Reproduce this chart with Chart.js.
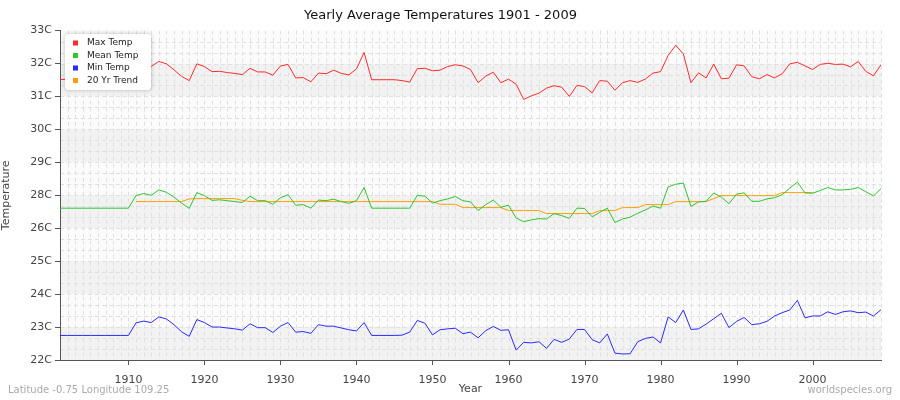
<!DOCTYPE html>
<html><head><meta charset="utf-8">
<script src="https://cdn.jsdelivr.net/npm/chart.js@4"></script>
<style>body{margin:0;background:#fff}#w{width:900px;height:400px;position:relative}</style>
</head><body><div id="w"><canvas id="c"></canvas></div>
<script>
const firstYear = 1901, lastYear = 2009;
const maxTemp = [31.37,31.37,31.37,31.37,31.37,31.37,31.37,31.37,31.37,31.37,
31.7,31.75,31.8,31.97,31.89,31.69,31.47,31.33,31.89,31.8,
31.63,31.64,31.6,31.57,31.53,31.74,31.62,31.62,31.51,31.82,
31.87,31.42,31.43,31.29,31.58,31.56,31.68,31.57,31.52,31.72,
32.27,31.36,31.36,31.36,31.36,31.33,31.28,31.73,31.74,31.66,
31.68,31.8,31.86,31.82,31.7,31.26,31.48,31.61,31.26,31.38,
31.21,30.7,30.82,30.91,31.08,31.16,31.11,30.8,31.17,31.13,
30.92,31.33,31.31,31.01,31.26,31.33,31.27,31.38,31.58,31.63,
32.17,32.51,32.22,31.26,31.59,31.42,31.88,31.39,31.41,31.86,
31.82,31.46,31.39,31.53,31.42,31.56,31.89,31.94,31.82,31.7,
31.87,31.91,31.87,31.88,31.79,31.97,31.64,31.49,31.86];
const meanTemp = [27.07,27.07,27.07,27.07,27.07,27.07,27.07,27.07,27.07,27.07,
27.49,27.56,27.5,27.68,27.6,27.44,27.24,27.06,27.59,27.49,
27.33,27.35,27.32,27.29,27.26,27.47,27.32,27.32,27.2,27.42,
27.52,27.17,27.19,27.07,27.34,27.32,27.37,27.29,27.23,27.32,
27.76,27.07,27.07,27.07,27.07,27.07,27.07,27.5,27.47,27.24,
27.32,27.38,27.46,27.32,27.28,26.99,27.19,27.34,27.1,27.17,
26.74,26.62,26.68,26.72,26.71,26.89,26.82,26.73,27.07,27.06,
26.78,26.93,27.07,26.59,26.71,26.77,26.9,27.01,27.14,27.07,
27.78,27.87,27.91,27.13,27.28,27.3,27.58,27.44,27.22,27.54,
27.58,27.3,27.3,27.38,27.42,27.52,27.74,27.94,27.58,27.57,
27.66,27.76,27.68,27.68,27.7,27.76,27.62,27.48,27.72];
const minTemp = [22.82,22.82,22.82,22.82,22.82,22.82,22.82,22.82,22.82,22.82,
23.24,23.3,23.25,23.44,23.37,23.18,22.94,22.79,23.35,23.25,
23.1,23.1,23.07,23.04,23.0,23.21,23.08,23.08,22.92,23.13,
23.25,22.93,22.95,22.89,23.18,23.13,23.13,23.07,23.01,22.97,
23.25,22.82,22.82,22.82,22.82,22.83,22.93,23.32,23.23,22.84,
23.01,23.04,23.06,22.88,22.93,22.74,22.98,23.12,22.99,23.01,
22.33,22.59,22.57,22.61,22.39,22.69,22.59,22.7,23.02,23.02,
22.68,22.57,22.87,22.23,22.2,22.21,22.61,22.72,22.77,22.57,
23.44,23.25,23.67,23.02,23.04,23.2,23.38,23.56,23.08,23.29,
23.42,23.18,23.21,23.29,23.47,23.58,23.67,23.99,23.41,23.47,
23.47,23.61,23.52,23.61,23.64,23.58,23.6,23.47,23.68];
const trend = [null,null,null,null,null,null,null,null,null,null,
27.29,27.29,27.29,27.29,27.29,27.29,27.29,27.38,27.39,27.39,
27.39,27.39,27.39,27.39,27.33,27.29,27.29,27.29,27.29,27.29,
27.29,27.29,27.29,27.29,27.29,27.29,27.29,27.29,27.29,27.29,
27.29,27.29,27.29,27.29,27.29,27.29,27.29,27.29,27.29,27.29,
27.2,27.2,27.2,27.09,27.09,27.09,27.09,27.09,27.09,26.99,
26.99,26.99,26.99,26.99,26.89,26.89,26.89,26.89,26.89,26.89,
26.89,26.99,26.99,26.99,27.09,27.09,27.09,27.19,27.19,27.19,
27.19,27.29,27.29,27.29,27.29,27.29,27.39,27.49,27.49,27.49,
27.49,27.49,27.49,27.49,27.49,27.59,27.59,27.59,27.59,27.59,
null,null,null,null,null,null,null,null,null];
const yMin = 22, yMax = 33, yStep = 1.1;

const years = [];
for (let y = firstYear; y <= lastYear; y++) years.push(y);
const pts = arr => arr.map((v,i) => ({x: years[i], y: v}));

const bands = {
  id:'bands',
  beforeDraw(ch){
    const {ctx, chartArea:a, scales:{x,y}} = ch;
    ctx.save();
    for (let i=0;i<10;i++){
      const top = y.getPixelForValue(yMax - i*yStep), bot = y.getPixelForValue(yMax-(i+1)*yStep);
      ctx.fillStyle = (i%2===1) ? '#f2f2f2' : '#fbfbfb';
      ctx.fillRect(a.left, top, a.right-a.left, bot-top);
    }
    ctx.strokeStyle='#e0e0e0'; ctx.setLineDash([4,3]); ctx.lineWidth=1;
    for (let v=yMin+yStep/3; v<yMax-0.01; v+=yStep/3){
      const p = Math.round(y.getPixelForValue(v))+0.5;
      ctx.beginPath(); ctx.moveTo(a.left,p); ctx.lineTo(a.right,p); ctx.stroke();
    }
    for (const yr of years){
      const p = Math.round(x.getPixelForValue(yr))+0.5;
      ctx.beginPath(); ctx.moveTo(p,a.top); ctx.lineTo(p,a.bottom); ctx.stroke();
    }
    ctx.setLineDash([]); ctx.strokeStyle='#555';
    for (let yr=1910; yr<=2000; yr+=10){
      const p = Math.round(x.getPixelForValue(yr))+0.5;
      ctx.beginPath(); ctx.moveTo(p,a.bottom); ctx.lineTo(p,a.bottom+5); ctx.stroke();
    }
    ctx.restore();
  },
  afterDraw(ch){
    const ctx = ch.ctx;
    ctx.save();
    ctx.shadowColor='rgba(0,0,0,0.25)'; ctx.shadowBlur=4;
    ctx.fillStyle='#fff';
    ctx.beginPath(); ctx.roundRect(65,34,86,56,4); ctx.fill();
    ctx.shadowColor='transparent';
    ctx.font='9px "DejaVu Sans"'; ctx.textBaseline='middle';
    ch.data.datasets.forEach((d,i)=>{
      const yy = 43 + i*12.5;
      ctx.fillStyle=d.borderColor; ctx.fillRect(73,yy-2.5,5,5);
      ctx.fillStyle='#222'; ctx.fillText(d.label, 87, yy);
    });
    ctx.font='10px "DejaVu Sans"'; ctx.fillStyle='#aaa';
    ctx.textAlign='left'; ctx.fillText('Latitude -0.75 Longitude 109.25', 8, 390);
    ctx.textAlign='right'; ctx.fillText('worldspecies.org', 892, 390);
    ctx.restore();
  }
};

new Chart(document.getElementById('c'), {
  type:'line',
  data:{datasets:[
    {label:'Max Temp', data:pts(maxTemp), borderColor:'#ff2a2a'},
    {label:'Mean Temp', data:pts(meanTemp), borderColor:'#2ec52e'},
    {label:'Min Temp', data:pts(minTemp), borderColor:'#2a2aff'},
    {label:'20 Yr Trend', data:pts(trend), borderColor:'#ffa000'}
  ]},
  options:{
    responsive:true, maintainAspectRatio:false, animation:false,
    elements:{point:{radius:0}, line:{borderWidth:1, tension:0}},
    layout:{padding:{left:0,right:19,top:0,bottom:0}},
    plugins:{legend:{display:false}, tooltip:{enabled:false},
      title:{display:true, text:'Yearly Average Temperatures 1901 - 2009', color:'#111',
        font:{family:'DejaVu Sans', size:13, weight:'normal'}, padding:{top:8,bottom:7}}},
    scales:{
      x:{type:'linear', min:firstYear, max:lastYear,
        afterFit(s){ s.height = 40; },
        afterBuildTicks(s){ s.ticks = []; for(let v=1910; v<=2000; v+=10) s.ticks.push({value:v}); },
        ticks:{maxRotation:0, autoSkip:false, color:'#444', font:{family:'DejaVu Sans',size:11}, padding:6,
          callback:v => String(v)},
        grid:{display:false},
        border:{color:'#555'},
        title:{display:true, text:'Year', color:'#444', font:{family:'DejaVu Sans',size:11}, padding:{top:0,bottom:4}}},
      y:{min:yMin, max:yMax,
        afterFit(s){ s.width = 60; },
        afterBuildTicks(s){ s.ticks = []; for(let i=0;i<=10;i++) s.ticks.push({value: yMin + i*yStep}); },
        ticks:{color:'#444', font:{family:'DejaVu Sans',size:11}, callback:v => Math.round(v)+'C'},
        grid:{display:true, drawOnChartArea:false, color:'#555', tickLength:5},
        border:{color:'#555'},
        title:{display:true, text:'Temperature', color:'#444', font:{family:'DejaVu Sans',size:11}, padding:0}}
    }
  },
  plugins:[bands]
});
</script></body></html>
